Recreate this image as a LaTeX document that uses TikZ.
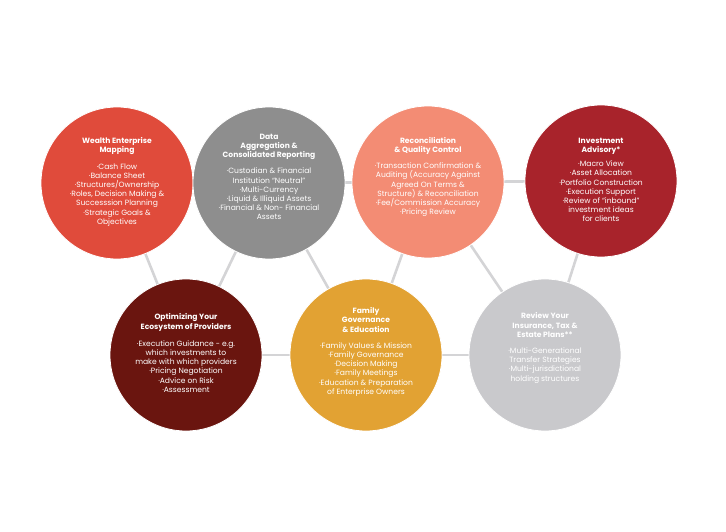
\documentclass[tikz,border=0pt]{standalone}
\usepackage{fontspec}
\setmainfont{Poppins}
\definecolor{cA}{HTML}{E04B3B}
\definecolor{cB}{HTML}{8E8E8E}
\definecolor{cC}{HTML}{F38C74}
\definecolor{cD}{HTML}{A8232B}
\definecolor{cE}{HTML}{6A150F}
\definecolor{cF}{HTML}{E2A233}
\definecolor{cG}{HTML}{C9C9CC}
\definecolor{lnk}{HTML}{D4D4D6}
\begin{document}
\begin{tikzpicture}[x=1pt,y=1pt,
  circ/.style={circle,minimum size=152pt,inner sep=0pt,draw=white,line width=0.8pt},
  txt/.style={align=center,text=white,font=\fontsize{7.6}{9.2}\selectfont},
  link/.style={draw=lnk,line width=2.6pt}]
\useasboundingbox (0,0) rectangle (726,531);
\coordinate (pA) at (117,348);
\coordinate (pB) at (269,348);
\coordinate (pC) at (428,349);
\coordinate (pD) at (601,350);
\coordinate (pE) at (186,176);
\coordinate (pF) at (366,176);
\coordinate (pG) at (545,176);
\draw[link] (pA)--(pB)--(pC)--(pD);
\draw[link] (pE)--(pF)--(pG);
\draw[link] (pA)--(pE)--(pB)--(pF)--(pC)--(pG)--(pD);
\node[circ,fill=cA] (A) at (pA) {};
\node[circ,fill=cB] (B) at (pB) {};
\node[circ,fill=cC] (C) at (pC) {};
\node[circ,fill=cD] (D) at (pD) {};
\node[circ,fill=cE] (E) at (pE) {};
\node[circ,fill=cF] (F) at (pF) {};
\node[circ,fill=cG] (G) at (pG) {};
\node[txt] (tA) at ([yshift=1pt]pA) {\textbf{Wealth Enterprise}\\\textbf{Mapping}\\[7pt]·Cash Flow\\·Balance Sheet\\·Structures/Ownership\\·Roles, Decision Making \&\\Successsion Planning\\·Strategic Goals \&\\Objectives};
\node[txt] (tB) at ([yshift=6pt]pB) {\textbf{Data}\\\textbf{Aggregation \&}\\\textbf{Consolidated Reporting}\\[7pt]·Custodian \& Financial\\Institution “Neutral”\\·Multi-Currency\\·Liquid \& Illiquid Assets\\·Financial \& Non- Financial\\Assets};
\node[txt] (tC) at ([yshift=5pt]pC) {\textbf{Reconciliation}\\\textbf{\& Quality Control}\\[7pt]·Transaction Confirmation \&\\Auditing (Accuracy Against\\Agreed On Terms \&\\Structure) \& Reconciliation\\·Fee/Commission Accuracy\\·Pricing Review};
\node[txt] (tD) at ([yshift=1pt]pD) {\textbf{Investment}\\\textbf{Advisory*}\\[5pt]·Macro View\\·Asset Allocation\\·Portfolio Construction\\·Execution Support\\·Review of “inbound”\\investment ideas\\for clients};
\node[txt] (tE) at ([yshift=2pt]pE) {\textbf{Optimizing Your}\\\textbf{Ecosystem of Providers}\\[8pt]·Execution Guidance - e.g.\\which investments to\\make with which providers\\·Pricing Negotiation\\·Advice on Risk\\·Assessment};
\node[txt] (tF) at ([yshift=3pt]pF) {\textbf{Family}\\\textbf{Governance}\\\textbf{\& Education}\\[7pt]·Family Values \& Mission\\·Family Governance\\·Decision Making\\·Family Meetings\\·Education \& Preparation\\of Enterprise Owners};
\node[txt] (tG) at ([yshift=7pt]pG) {\textbf{Review Your}\\\textbf{Insurance, Tax \&}\\\textbf{Estate Plans**}\\[7pt]·Multi-Generational\\Transfer Strategies\\·Multi-jurisdictional\\holding structures};
\end{tikzpicture}
\end{document}
